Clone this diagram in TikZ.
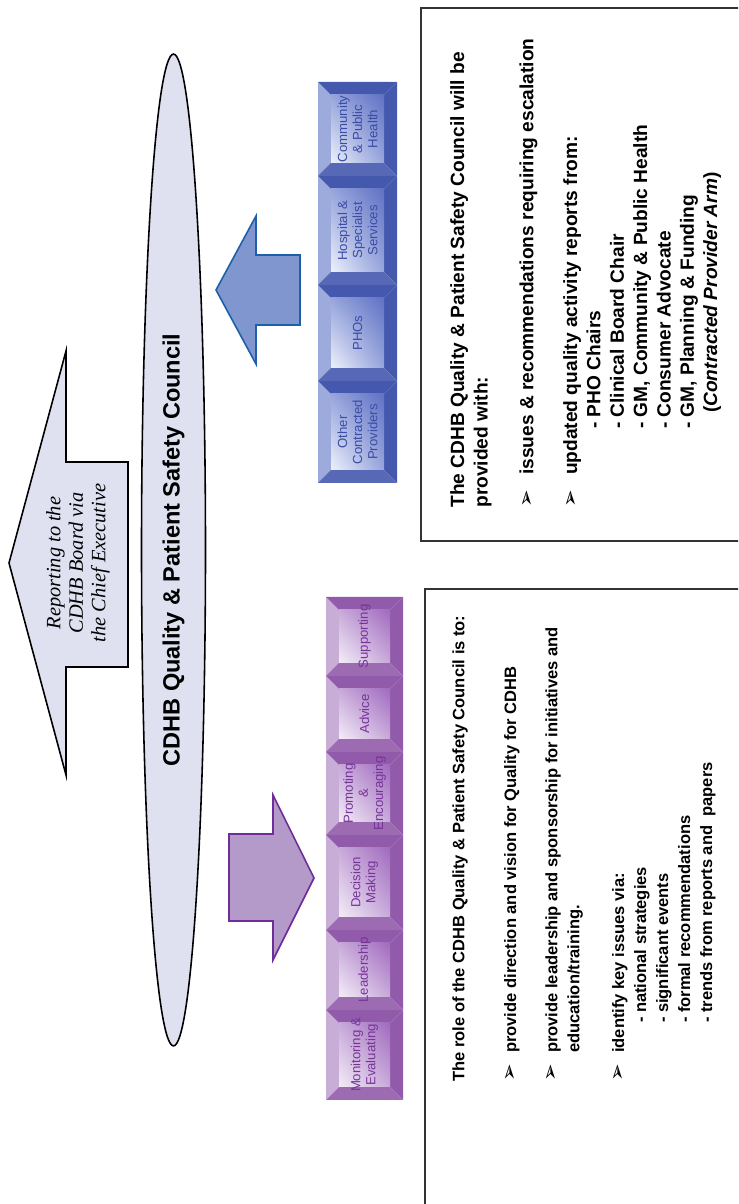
\documentclass[tikz,border=0pt]{standalone}
\usepackage{fontspec}
\setmainfont{Liberation Sans}
\newfontfamily\repfont{Liberation Serif}
\newfontfamily\symfont{DejaVu Sans}
\usetikzlibrary{shapes.geometric,shadings}

\definecolor{ovalfill}{RGB}{223,225,241}
\definecolor{bluefill}{RGB}{127,150,207}
\definecolor{blueline}{RGB}{30,95,170}
\definecolor{purpfill}{RGB}{180,154,200}
\definecolor{purpline}{RGB}{110,45,155}
% button colours, p = purple, b = blue
\definecolor{pdark}{RGB}{146,90,170}
\definecolor{plight}{RGB}{200,174,215}
\definecolor{pfacea}{RGB}{244,237,248}
\definecolor{pfacem}{RGB}{200,170,218}
\definecolor{pfaceb}{RGB}{160,106,190}
\definecolor{ptext}{RGB}{118,52,152}
\definecolor{bdark}{RGB}{68,88,174}
\definecolor{blight}{RGB}{156,170,220}
\definecolor{bfacea}{RGB}{238,241,251}
\definecolor{bfacem}{RGB}{150,165,220}
\definecolor{bfaceb}{RGB}{96,113,196}
\definecolor{btext}{RGB}{58,76,166}

% bevelled button: colour prefix, name, x from, x to, y from, y to, label
\newcommand{\bevbox}[7]{%
  \fill[#1light] (#3,#5) -- (#4,#5) -- (#4-13,#5+13) -- (#3+13,#5+13) -- cycle;
  \fill[#1dark] (#4,#5) -- (#4,#6) -- (#4-13,#6-13) -- (#4-13,#5+13) -- cycle;
  \fill[#1dark] (#3,#6) -- (#4,#6) -- (#4-13,#6-13) -- (#3+13,#6-13) -- cycle;
  \fill[#1dark!90!white] (#3,#5) -- (#3,#6) -- (#3+13,#6-13) -- (#3+13,#5+13) -- cycle;
  \shade[lower left=#1facea, upper right=#1faceb, upper left=#1facem, lower right=#1facem]
    (#3+13,#5+13) rectangle (#4-13,#6-13);
  \node[boxlbl, text=#1text] (#2) at ({(#3+#4)/2},{(#5+#6)/2}) {#7};
}
\newcommand{\blt}[1]{\makebox[#1][l]{\symfont\fontsize{12}{12}\selectfont\char"27A2}}

\begin{document}
\begin{tikzpicture}[x=0.02cm, y=-0.02cm, rotate=90, transform shape,
  oval/.style={draw=black, line width=0.9pt, fill=ovalfill},
  bluearrow/.style={draw=blueline, line width=0.9pt, fill=bluefill},
  purparrow/.style={draw=purpline, line width=0.9pt, fill=purpfill},
  frame/.style={draw=black!80, line width=0.6pt},
  boxlbl/.style={align=center, inner sep=0pt, font=\fontsize{7.5}{8.6}\selectfont},
  boxtext/.style={align=left, inner sep=0pt, anchor=north west}]
\useasboundingbox (0,0) rectangle (1204,738);

% council
\node[oval, ellipse, minimum width=19.84cm, minimum height=1.28cm,
  font=\bfseries\fontsize{13.4}{16}\selectfont] (council) at (654,173.5)
  {CDHB Quality \& Patient Safety Council};

% reporting arrow
\draw[oval] (641,9) -- (853,66) -- (742,66) -- (742,128) -- (537,128)
  -- (537,66) -- (429,66) -- cycle;
\node[align=center, inner sep=0pt, font=\repfont\itshape\fontsize{11.6}{12.8}\selectfont]
  (report) at (641,78) {Reporting to the\\CDHB Board via\\the Chief Executive};

% arrows to the buttons
\draw[purparrow] (326,314) -- (409,273) -- (370,273) -- (370,229) -- (283,229)
  -- (283,273) -- (244,273) -- cycle;
\draw[bluearrow] (914,216) -- (988,256) -- (949,256) -- (949,300) -- (879,300)
  -- (879,256) -- (840,256) -- cycle;

% purple buttons
\bevbox{p}{monitor}{104}{194}{326}{403}{Monitoring \&\\Evaluating}
\bevbox{p}{leader}{194}{274}{326}{403}{Leadership}
\bevbox{p}{decide}{274}{369}{326}{403}{Decision\\Making}
\bevbox{p}{promote}{369}{452}{326}{403}{Promoting\\\&\\Encouraging}
\bevbox{p}{advice}{452}{528}{326}{403}{Advice}
\bevbox{p}{support}{528}{607}{326}{403}{Supporting}

% blue buttons
\bevbox{b}{other}{721}{823}{318}{397}{Other\\Contracted\\Providers}
\bevbox{b}{pho}{823}{919}{318}{397}{PHOs}
\bevbox{b}{hosp}{919}{1028}{318}{397}{Hospital \&\\Specialist\\Services}
\bevbox{b}{commun}{1028}{1122}{318}{397}{Community\\\& Public\\Health}

% text frames
\begin{scope}
\clip (0,0) rectangle (1204,738);
\draw[frame] (-10,425) rectangle (615,760);
\draw[frame] (663,421) rectangle (1196,760);
\end{scope}

\node[boxtext, font=\bfseries\fontsize{9.4}{12.5}\selectfont] (role) at (122,452) {%
The role of the CDHB Quality \&  Patient Safety Council is to:\\[17pt]
\blt{16.4pt}provide direction and vision for Quality for CDHB\\[11pt]
\blt{16.4pt}provide leadership and sponsorship for initiatives and\\
\hspace*{16.4pt}education/training.\\[13pt]
\blt{16.4pt}identify key issues via:\\
\hspace*{33.4pt}- national strategies\\
\hspace*{33.4pt}- significant events\\
\hspace*{33.4pt}- formal recommendations\\
\hspace*{33.4pt}- trends from reports and \ papers};

\node[boxtext, font=\bfseries\fontsize{10.9}{13.3}\selectfont] (inputs) at (696,450) {%
The CDHB Quality \&  Patient Safety Council will be\\
provided with:\\[12.7pt]
\blt{18.7pt}issues \& recommendations requiring escalation\\[11.6pt]
\blt{18.7pt}updated quality activity reports from:\\
\hspace*{44.8pt}- PHO Chairs\\
\hspace*{44.8pt}- Clinical Board Chair\\
\hspace*{44.8pt}- GM, Community \& Public Health\\
\hspace*{44.8pt}- Consumer Advocate\\
\hspace*{44.8pt}- GM, Planning \& Funding\\
\hspace*{53.9pt}(\textit{Contracted Provider Arm})};
\end{tikzpicture}
\end{document}
